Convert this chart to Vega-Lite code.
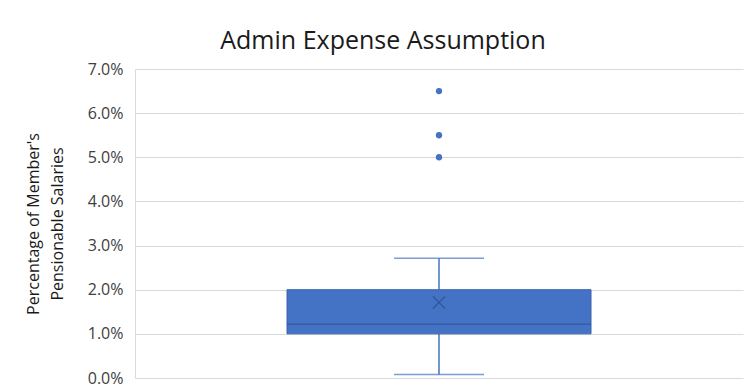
{
  "$schema": "https://vega.github.io/schema/vega-lite/v6.json",
  "width": 608,
  "height": 309,
  "autosize": {"type": "none"},
  "padding": {"left": 135, "top": 69, "right": 2, "bottom": 12},
  "background": "white",
  "title": {
    "text": "Admin Expense Assumption",
    "font": "Open Sans",
    "fontSize": 25,
    "fontWeight": "normal",
    "color": "#1a1a1a",
    "anchor": "middle",
    "baseline": "bottom",
    "offset": 14,
    "dx": -56,
    "dy": 32
  },
  "config": {
    "view": {"stroke": null},
    "axis": {"labelFont": "Open Sans", "titleFont": "Open Sans"}
  },
  "datasets": {
    "stats": [
      {"cat": "1", "lower": 0.0008, "q1": 0.010, "median": 0.0122, "mean": 0.0171, "q3": 0.020, "upper": 0.0271}
    ],
    "outliers": [
      {"cat": "1", "value": 0.065},
      {"cat": "1", "value": 0.055},
      {"cat": "1", "value": 0.050}
    ]
  },
  "encoding": {
    "x": {
      "field": "cat",
      "type": "nominal",
      "scale": {"paddingInner": 0, "paddingOuter": 0.5},
      "axis": null
    }
  },
  "layer": [
    {
      "data": {"name": "stats"},
      "mark": {"type": "rule", "color": "#4472C4", "strokeWidth": 1.5},
      "encoding": {
        "y": {
          "field": "lower",
          "type": "quantitative",
          "scale": {"domain": [0, 0.07], "nice": false, "zero": true},
          "axis": {
            "values": [0, 0.01, 0.02, 0.03, 0.04, 0.05, 0.06, 0.07],
            "format": ".1%",
            "grid": true,
            "gridColor": "#D9D9D9",
            "gridWidth": 1,
            "domain": true,
            "domainColor": "#D9D9D9",
            "ticks": false,
            "labelPadding": 12,
            "labelFontSize": 16,
            "labelColor": "#404040",
            "title": ["Percentage of Member's", "Pensionable Salaries"],
            "titleFontSize": 16,
            "titleFontWeight": "normal",
            "titleColor": "#1a1a1a",
            "titlePadding": 22,
            "titleLineHeight": 24
          }
        },
        "y2": {"field": "q1"}
      }
    },
    {
      "data": {"name": "stats"},
      "mark": {"type": "rule", "color": "#4472C4", "strokeWidth": 1.5},
      "encoding": {
        "y": {"field": "q3", "type": "quantitative"},
        "y2": {"field": "upper"}
      }
    },
    {
      "data": {"name": "stats"},
      "mark": {"type": "tick", "color": "#4472C4", "size": 90, "thickness": 1.5},
      "encoding": {"y": {"field": "lower", "type": "quantitative"}}
    },
    {
      "data": {"name": "stats"},
      "mark": {"type": "tick", "color": "#4472C4", "size": 90, "thickness": 1.5},
      "encoding": {"y": {"field": "upper", "type": "quantitative"}}
    },
    {
      "data": {"name": "stats"},
      "mark": {"type": "bar", "color": "#4472C4", "stroke": "#3A62AA", "strokeWidth": 1},
      "encoding": {
        "y": {"field": "q1", "type": "quantitative"},
        "y2": {"field": "q3"}
      }
    },
    {
      "data": {"name": "stats"},
      "mark": {"type": "tick", "color": "#2F5597", "size": 304, "thickness": 1.5},
      "encoding": {"y": {"field": "median", "type": "quantitative"}}
    },
    {
      "data": {"name": "stats"},
      "mark": {"type": "point", "shape": "M-1,-1L1,1M-1,1L1,-1", "filled": false, "stroke": "#2F5597", "strokeWidth": 1.3, "size": 150, "opacity": 1},
      "encoding": {"y": {"field": "mean", "type": "quantitative"}}
    },
    {
      "data": {"name": "outliers"},
      "mark": {"type": "circle", "color": "#4472C4", "size": 40, "opacity": 1},
      "encoding": {"y": {"field": "value", "type": "quantitative"}}
    }
  ]
}
